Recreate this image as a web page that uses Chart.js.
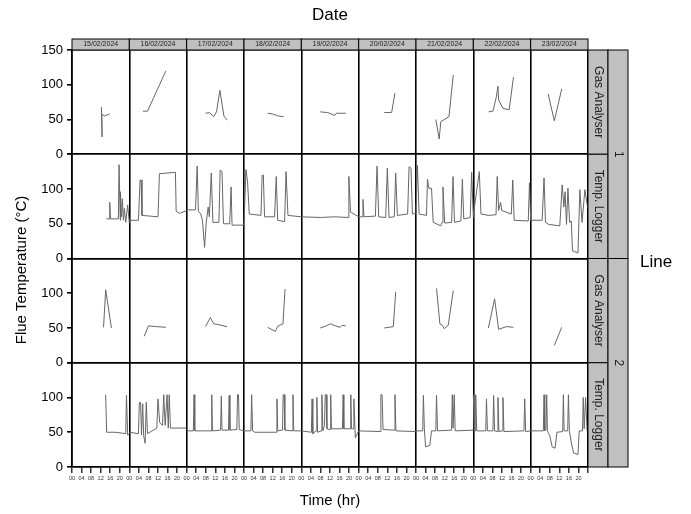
<!DOCTYPE html>
<html><head><meta charset="utf-8">
<script src="https://cdn.jsdelivr.net/npm/chart.js@4"></script>
<style>body{margin:0;background:#fff}canvas{display:block}</style>
</head><body>
<canvas id="c" width="691" height="514"></canvas>
<script>
const dates = ["15/02/2024","16/02/2024","17/02/2024","18/02/2024","19/02/2024","20/02/2024","21/02/2024","22/02/2024","23/02/2024"];
const rowLabels = ["Gas Analyser","Temp. Logger","Gas Analyser","Temp. Logger"];
const lineLabels = ["1","2"];
const yTicks = [0,50,100,150];
const hourTicks = [0,4,8,12,16,20];

// [hour, °C] per day
const gasL1 = [
 [[12.3,68],[12.6,25],[12.5,58],[13.5,55],[15.8,58]],
 [[5.7,62],[7.6,62],[15.3,120]],
 [[7.9,59],[9.6,60],[11.3,54],[12.5,61],[13.9,92],[15.6,55],[17,49]],
 [[9.9,59],[12,58],[14.4,55],[16.6,54]],
 [[7.9,61],[11,60],[14,56],[14.7,59],[18.6,59]],
 [[10.7,60],[13.8,60],[15.2,88]],
 [[8.3,50],[9.7,22],[10.4,47],[13.8,54],[15.6,114]],
 [[6.4,61],[8.2,62],[9.6,82],[10.3,98],[10.6,78],[12.4,66],[15,64],[16.8,111]],
 [[7.3,87],[9.9,48],[13,94]]
];
const tempL1 = [
 [[14.4,57],[15.6,57],[15.8,81],[16.1,57],[19.4,57],[19.7,135],[20.2,55],[20.3,96],[20.7,60],[21.1,86],[21.5,55],[21.9,72],[22.5,52],[23.3,77],[24,51]],
 [[0,55],[3.8,55],[4.5,113],[4.9,113],[5.3,62],[12,60],[12.6,122],[19.3,124],[19.6,68],[21,65],[24,69]],
 [[0,70],[3.7,70],[4.4,133],[4.9,68],[5.9,64],[6.6,55],[7.5,16],[8.2,52],[9,74],[9.5,60],[10.3,123],[11,52],[13.5,52],[14,127],[14.8,125],[15.4,50],[18,50],[18.6,103],[19,48],[24,48]],
 [[0,48],[0.8,128],[1.5,110],[2.2,64],[7.1,62],[7.6,120],[8.1,120],[8.6,60],[12.8,60],[13.5,118],[14.1,55],[17,53],[17.6,125],[18.4,62],[24,60]],
 [[0,60],[8,59],[14,60],[19.6,59],[19.9,118],[20.6,67],[24,60]],
 [[0,60],[1.4,60],[1.8,85],[2.2,60],[7,61],[7.7,133],[8.4,60],[11.3,59],[12,130],[12.7,59],[14.9,60],[15.5,123],[16.2,62],[20.5,64],[21.1,132],[21.9,130],[22.5,64],[24,65]],
 [[0,66],[0.6,134],[1.3,64],[4.4,62],[4.8,114],[5.4,101],[6.5,101],[7.2,52],[10.4,47],[10.9,52],[11.3,103],[12,51],[14.9,52],[15.5,118],[16.1,52],[18.8,54],[19.4,114],[20,57],[22.7,59],[23.3,124],[24,59]],
 [[0,62],[2.5,125],[3.2,64],[6.5,62],[9.5,63],[10,118],[10.6,69],[11.4,81],[11.9,69],[15.9,64],[16.5,113],[17.1,55],[23,54],[23.5,109],[24,55]],
 [[0,55],[4.8,55],[5.6,116],[6.2,52],[7.6,49],[12.2,47],[13.2,106],[13.9,74],[14.4,96],[15,49],[15.6,101],[16.3,52],[17,54],[17.5,11],[19.8,8],[20.6,99],[21.5,52],[22.7,99],[23.9,72]]
];
const gasL2 = [
 [[13.2,51],[14.1,105],[16.5,50]],
 [[6.2,38],[8,53],[11.4,52],[15.3,51]],
 [[7.9,52],[9.9,65],[11.3,56],[13.2,55],[16.9,52]],
 [[9.9,51],[13.1,45],[14.2,53],[16.3,56],[17.2,106]],
 [[7.9,50],[10.4,53],[12.1,56],[14.4,53],[16.3,51],[17.1,54],[18.6,53]],
 [[10.7,50],[14.5,52],[15.5,102]],
 [[8.6,107],[10,56],[11,54],[11.8,49],[13.5,54],[15.6,104]],
 [[6.3,50],[8.9,92],[10.6,48],[13.8,52],[16.8,51]],
 [[9.9,25],[13,51]]
];
const tempL2 = [
 [[14.1,104],[14.5,50],[18,50],[22.5,48],[22.8,103],[23.3,46],[24,48]],
 [[0,50],[3.8,48],[4.2,93],[4.7,93],[5.1,46],[5.6,91],[6,45],[6.6,34],[7.1,93],[7.6,48],[11.5,56],[12,98],[12.7,64],[13.9,60],[14.4,104],[15,60],[15.8,104],[16.3,56],[16.7,104],[17.2,56],[24,56]],
 [[0,52],[2.8,52],[3.1,104],[3.4,52],[10.2,52],[10.5,104],[10.8,52],[14.2,53],[14.5,102],[14.8,53],[17.5,53],[17.8,103],[18.1,53],[21,54],[21.3,104],[21.7,104],[22,54],[24,52]],
 [[0,52],[2.9,52],[3.2,104],[3.6,52],[4.5,50],[13.5,50],[13.8,98],[14.1,52],[16.1,53],[16.4,104],[16.8,104],[17.1,53],[20.2,52],[20.5,104],[20.8,52],[24,52]],
 [[0,52],[4.2,50],[4.5,98],[4.8,48],[6.2,52],[6.5,100],[6.8,50],[8.3,52],[8.6,104],[9,52],[9.7,60],[10,104],[10.4,104],[10.7,55],[12,54],[12.3,104],[12.6,55],[17.2,55],[17.5,104],[17.8,55],[20.4,55],[20.7,104],[21,55],[21.7,55],[22,98],[22.6,42],[24,52]],
 [[0,52],[9,51],[9.3,104],[9.8,104],[10.2,54],[14.9,53],[15.2,104],[15.6,52],[24,51]],
 [[0,52],[2.8,52],[3.1,103],[3.5,55],[4,29],[5.8,31],[6.5,52],[8.3,52],[8.6,103],[9,52],[14.9,53],[15.2,104],[15.5,56],[15.7,56],[16,104],[16.4,52],[24,53]],
 [[0,104],[0.4,52],[0.8,52],[1,104],[1.4,52],[5.2,52],[5.5,98],[5.9,52],[8.2,52],[8.5,103],[8.9,52],[10,51],[10.3,100],[10.7,51],[12.1,52],[12.4,100],[12.8,51],[21.2,52],[21.5,98],[21.9,51],[24,52]],
 [[0,52],[5.3,52],[5.6,104],[5.9,52],[6.4,54],[6.7,104],[7,52],[8,45],[9,29],[10.2,27],[11,50],[13.4,51],[13.7,104],[14,52],[15.5,52],[15.8,104],[16.2,52],[17,35],[18,20],[19.8,18],[20.3,52],[21.7,52],[22,100],[22.4,55],[22.7,55],[23,100],[23.6,52]]
];

const rows = [gasL1, tempL1, gasL2, tempL2];
const axisIds = ['r0','r1','r2','r3'];
const datasets = [];
rows.forEach((row, r) => row.forEach((pts, d) => {
  datasets.push({
    data: pts.map(p => ({x: d*24 + p[0], y: p[1]})),
    yAxisID: axisIds[r], borderColor: '#666', borderWidth: 1,
    pointRadius: 0, tension: 0, fill: false
  });
}));

const scales = {
  x: {
    type: 'linear', min: 0, max: 216,
    afterBuildTicks: s => { const t=[]; for (let d=0; d<9; d++) hourTicks.forEach(h => t.push({value: d*24+h})); t.push({value:216}); s.ticks = t; },
    ticks: { autoSkip: false, maxRotation: 0, padding: 2, font: {size: 5.5, family: 'Arial, Liberation Sans'}, color: '#333',
      callback: v => v === 216 ? '' : String(v % 24).padStart(2,'0') },
    grid: { color: c => (c.tick && c.tick.value % 24 === 0) ? '#000' : 'rgba(0,0,0,0)', lineWidth: 1.6,
      drawTicks: true, tickLength: 6, tickColor: '#000', tickWidth: 1.2 },
    border: { color: '#000', width: 1.6 },
    title: { display: true, text: 'Time (hr)', font: {size: 15, family: 'Arial, Liberation Sans'}, color: '#000', padding: {top: 6} },
    afterFit: s => { s.height = 47; }
  }
};
// stacked axes are laid out bottom-up, so define the bottom row first
[3,2,1,0].forEach(r => {
  scales[axisIds[r]] = {
    type: 'linear', position: 'left', stack: 'rows', stackWeight: 1, offset: false,
    min: 0, max: 150,
    afterBuildTicks: s => { s.ticks = yTicks.map(v => ({value: v})); },
    ticks: { font: {size: 13, family: 'Arial, Liberation Sans'}, color: '#000', padding: 4,
      callback: v => (v === 150 && r !== 0) ? '' : v },
    grid: { color: c => (c.tick && (c.tick.value === 0 || c.tick.value === 150)) ? '#000' : 'rgba(0,0,0,0)', lineWidth: 1.6,
      drawTicks: true, tickLength: 5, tickColor: '#000' },
    border: { color: '#000', width: 1.6 },
    afterFit: s => { s.width = 52; }
  };
});

const decor = {
  id: 'decor',
  afterDraw(chart) {
    const ctx = chart.ctx, a = chart.chartArea, xs = chart.scales.x;
    ctx.save();
    ctx.fillStyle = '#000'; ctx.textAlign = 'center'; ctx.textBaseline = 'middle';
    ctx.font = '17px Arial, "Liberation Sans"';
    ctx.fillText('Date', (a.left + a.right)/2, 15);
    dates.forEach((d, i) => {
      const x0 = xs.getPixelForValue(i*24), x1 = xs.getPixelForValue((i+1)*24);
      ctx.fillStyle = '#c0c0c0'; ctx.fillRect(x0, a.top - 11, x1 - x0, 11);
      ctx.strokeStyle = '#000'; ctx.lineWidth = 1; ctx.strokeRect(x0, a.top - 11, x1 - x0, 11);
      ctx.fillStyle = '#222'; ctx.font = '7px Arial, "Liberation Sans"';
      ctx.fillText(d, (x0 + x1)/2, a.top - 5.5);
    });
    axisIds.forEach((id, r) => {
      const s = chart.scales[id], y0 = s.getPixelForValue(150), y1 = s.getPixelForValue(0);
      ctx.fillStyle = '#c0c0c0'; ctx.fillRect(a.right, y0, 20, y1 - y0);
      ctx.strokeStyle = '#000'; ctx.lineWidth = 1; ctx.strokeRect(a.right, y0, 20, y1 - y0);
      ctx.save(); ctx.translate(a.right + 10, (y0 + y1)/2); ctx.rotate(Math.PI/2);
      ctx.fillStyle = '#222'; ctx.font = '12px Arial, "Liberation Sans"'; ctx.fillText(rowLabels[r], 0, 0);
      ctx.restore();
    });
    lineLabels.forEach((l, g) => {
      const y0 = chart.scales[axisIds[g*2]].getPixelForValue(150), y1 = chart.scales[axisIds[g*2+1]].getPixelForValue(0);
      ctx.fillStyle = '#c0c0c0'; ctx.fillRect(a.right + 20, y0, 20, y1 - y0);
      ctx.strokeStyle = '#000'; ctx.strokeRect(a.right + 20, y0, 20, y1 - y0);
      ctx.save(); ctx.translate(a.right + 30, (y0 + y1)/2); ctx.rotate(Math.PI/2);
      ctx.fillStyle = '#222'; ctx.font = '12px Arial, "Liberation Sans"'; ctx.fillText(l, 0, 0);
      ctx.restore();
    });
    ctx.fillStyle = '#000'; ctx.font = '17px Arial, "Liberation Sans"'; ctx.textAlign = 'left';
    ctx.fillText('Line', a.right + 52, 262);
    ctx.save(); ctx.translate(22, 270); ctx.rotate(-Math.PI/2); ctx.textAlign = 'center';
    ctx.font = '15px Arial, "Liberation Sans"'; ctx.fillText('Flue Temperature (°C)', 0, 0);
    ctx.restore();
    ctx.restore();
  }
};

new Chart(document.getElementById('c'), {
  type: 'line',
  data: { datasets },
  options: {
    responsive: false, animation: false,
    layout: { padding: { top: 50, right: 103, left: 20, bottom: 0 } },
    plugins: { legend: { display: false }, tooltip: { enabled: false } },
    scales
  },
  plugins: [decor]
});
</script>
</body></html>
